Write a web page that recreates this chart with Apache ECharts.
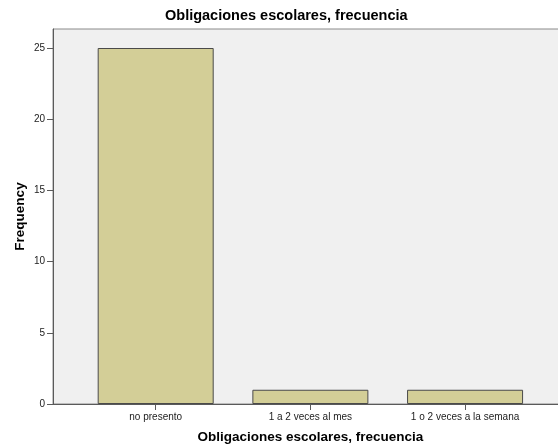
<!DOCTYPE html>
<html lang="es">
<head>
    <meta charset="UTF-8">
    <title>Obligaciones escolares, frecuencia</title>
    <script src="https://cdn.jsdelivr.net/npm/echarts@6/dist/echarts.min.js"></script>
    <style>
        html, body { margin: 0; padding: 0; background: #ffffff; }
    </style>
</head>
<body>
    <div id="main" style="width:558px;height:448px;"></div>
    <script>
        // datos
        var categories = ['no presento', '1 a 2 veces al mes', '1 o 2 veces a la semana'];
        var counts = [25, 1, 1];
        var yMax = 25;      // último tick del eje
        var yStep = 5;

        var font = 'Liberation Sans, Arial, sans-serif';
        var axisColor = '#5a5a5a';

        var myChart = echarts.init(document.getElementById('main'), null, { renderer: 'canvas' });

        var option = {
            backgroundColor: '#ffffff',
            animation: false,
            title: {
                text: 'Obligaciones escolares, frecuencia',
                left: 165,
                top: 8,
                padding: 0,
                textStyle: {
                    fontFamily: font,
                    fontSize: 14.5,
                    fontWeight: 'bold',
                    color: '#000000'
                }
            },
            grid: [
                // marco gris del área de trazado
                {
                    left: 53, right: -10, top: 29, bottom: 44,
                    outerBoundsMode: 'none',
                    show: true,
                    backgroundColor: '#f0f0f0',
                    borderColor: '#8a8a8a',
                    borderWidth: 1
                },
                // barras (los extremos de SPSS dejan margen a cada lado)
                { left: 78.35, right: 15.6, top: 48, bottom: 44, outerBoundsMode: 'none' }
            ],
            xAxis: [
                {
                    gridIndex: 0,
                    type: 'category',
                    data: categories,
                    axisLine: { show: true, lineStyle: { color: axisColor, width: 1 } },
                    axisTick: { show: false },
                    axisLabel: { show: false },
                    splitLine: { show: false }
                },
                {
                    gridIndex: 1,
                    type: 'category',
                    data: categories,
                    name: 'Obligaciones escolares, frecuencia',
                    nameLocation: 'middle',
                    nameGap: 26,
                    nameTextStyle: {
                        fontFamily: font,
                        fontSize: 13.5,
                        fontWeight: 'bold',
                        color: '#000000'
                    },
                    axisLine: { show: false },
                    axisTick: { show: true, alignWithLabel: true, length: 6, lineStyle: { color: axisColor } },
                    axisLabel: {
                        margin: 8,
                        fontFamily: font,
                        fontSize: 10,
                        color: '#222222'
                    },
                    splitLine: { show: false }
                }
            ],
            yAxis: [
                {
                    gridIndex: 0,
                    type: 'value',
                    min: 0,
                    max: 1,
                    name: 'Frequency',
                    nameLocation: 'middle',
                    nameGap: 26,
                    nameTextStyle: {
                        fontFamily: font,
                        fontSize: 13.5,
                        fontWeight: 'bold',
                        color: '#000000'
                    },
                    axisLine: { show: true, lineStyle: { color: axisColor, width: 1 } },
                    axisTick: { show: false },
                    axisLabel: { show: false },
                    splitLine: { show: false }
                },
                {
                    gridIndex: 1,
                    type: 'value',
                    min: 0,
                    max: yMax,
                    interval: yStep,
                    offset: 25.35,
                    axisLine: { show: false },
                    axisTick: { show: true, length: 6, lineStyle: { color: axisColor } },
                    axisLabel: {
                        margin: 8,
                        fontFamily: font,
                        fontSize: 10,
                        color: '#222222'
                    },
                    splitLine: { show: false }
                }
            ],
            series: [{
                type: 'bar',
                xAxisIndex: 1,
                yAxisIndex: 1,
                barWidth: '75%',
                data: counts,
                itemStyle: {
                    color: '#d3ce97',
                    borderColor: '#4a4a4a',
                    borderWidth: 1
                }
            }]
        };
        myChart.setOption(option);
    </script>
</body>
</html>
